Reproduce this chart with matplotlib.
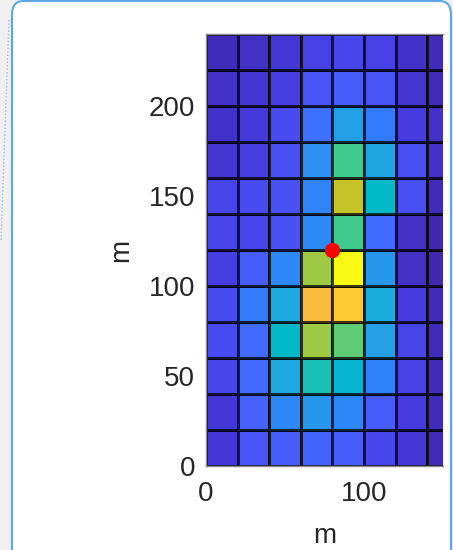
import numpy as np
import matplotlib
matplotlib.use("Agg")
import matplotlib.pyplot as plt
from matplotlib.colors import LinearSegmentedColormap
from matplotlib.patches import FancyBboxPatch
from matplotlib.lines import Line2D

# ---- data ----
x_edges = [0, 20, 40, 60, 80, 100, 120, 140, 160]
y_edges = [0, 20, 40, 60, 80, 100, 120, 140, 160, 180, 200, 220, 240]
# values per row, bottom (y 0-20) to top (y 220-240), columns x 0..160
row0 = [4, 9.5, 11, 12.5, 11, 7, 4, 1.5]
row1 = [4, 12, 18, 21, 18, 11, 5, 1.5]
row2 = [6.5, 13.5, 25, 32, 28, 17, 6, 1.5]
row3 = [8, 13.5, 29.5, 44, 39.5, 23, 6.5, 1.5]
row4 = [8, 16, 25, 52, 55, 26, 5, 1.5]
row5 = [5.5, 11, 18, 44, 63, 21, 2.5, 0.5]
row6 = [7, 7, 9, 18.5, 37, 13.5, 2.5, 0.5]
row7 = [6.5, 8, 9, 17.5, 47, 29.5, 8.5, 1.5]
row8 = [3.5, 5.5, 9, 19.5, 37, 24, 8.5, 2.5]
row9 = [3, 4.5, 8, 14.5, 23, 16, 5, 2.5]
row10 = [2.5, 3.5, 5.5, 9.5, 11, 9.5, 3.5, 1.5]
row11 = [1.5, 2.5, 4, 6, 7, 6, 3, 1.5]
point_x = [80]
point_y = [120]
x_ticks = [0, 100]
y_ticks = [0, 50, 100, 150, 200]
x_label = "m"
y_label = "m"

Z = np.array([row0, row1, row2, row3, row4, row5, row6, row7, row8, row9, row10, row11])

# ---- parula colormap (MATLAB) ----
parula_data = [
    [0.2422, 0.1504, 0.6603], [0.2504, 0.1650, 0.7076], [0.2578, 0.1818, 0.7511],
    [0.2647, 0.1978, 0.7952], [0.2706, 0.2147, 0.8364], [0.2751, 0.2342, 0.8710],
    [0.2783, 0.2559, 0.8991], [0.2803, 0.2782, 0.9221], [0.2813, 0.3006, 0.9414],
    [0.2810, 0.3228, 0.9579], [0.2795, 0.3447, 0.9717], [0.2760, 0.3667, 0.9829],
    [0.2699, 0.3892, 0.9906], [0.2602, 0.4123, 0.9952], [0.2440, 0.4358, 0.9988],
    [0.2206, 0.4603, 0.9973], [0.1963, 0.4847, 0.9892], [0.1834, 0.5074, 0.9798],
    [0.1786, 0.5289, 0.9682], [0.1764, 0.5499, 0.9520], [0.1687, 0.5703, 0.9359],
    [0.1540, 0.5902, 0.9218], [0.1460, 0.6091, 0.9079], [0.1380, 0.6276, 0.8973],
    [0.1248, 0.6459, 0.8883], [0.1113, 0.6635, 0.8763], [0.0952, 0.6798, 0.8598],
    [0.0689, 0.6948, 0.8394], [0.0297, 0.7082, 0.8163], [0.0036, 0.7203, 0.7917],
    [0.0067, 0.7312, 0.7660], [0.0433, 0.7411, 0.7394], [0.0964, 0.7500, 0.7120],
    [0.1408, 0.7584, 0.6842], [0.1717, 0.7670, 0.6554], [0.1938, 0.7758, 0.6251],
    [0.2161, 0.7843, 0.5923], [0.2470, 0.7918, 0.5567], [0.2906, 0.7973, 0.5188],
    [0.3406, 0.8008, 0.4789], [0.3909, 0.8029, 0.4354], [0.4456, 0.8024, 0.3909],
    [0.5044, 0.7993, 0.3480], [0.5616, 0.7942, 0.3045], [0.6174, 0.7876, 0.2612],
    [0.6720, 0.7793, 0.2227], [0.7242, 0.7698, 0.1910], [0.7738, 0.7598, 0.1646],
    [0.8203, 0.7498, 0.1535], [0.8634, 0.7406, 0.1596], [0.9035, 0.7330, 0.1774],
    [0.9393, 0.7288, 0.2100], [0.9728, 0.7298, 0.2394], [0.9956, 0.7434, 0.2371],
    [0.9970, 0.7659, 0.2199], [0.9952, 0.7893, 0.2028], [0.9892, 0.8136, 0.1885],
    [0.9786, 0.8386, 0.1766], [0.9676, 0.8639, 0.1643], [0.9610, 0.8890, 0.1537],
    [0.9597, 0.9135, 0.1423], [0.9628, 0.9373, 0.1265], [0.9691, 0.9606, 0.1064],
    [0.9769, 0.9839, 0.0805]]
parula = LinearSegmentedColormap.from_list("parula", parula_data, N=256)

plt.rcParams['font.family'] = ['Liberation Sans', 'DejaVu Sans']

W, H = 453, 550
fig = plt.figure(figsize=(W / 100, H / 100), dpi=100)
fig.patch.set_facecolor('#f0f0f0')

# card background
card = FancyBboxPatch((12 / W, -20 / H), (451 - 12) / W, (549 + 20) / H,
                      boxstyle="round,pad=0,rounding_size=0.025",
                      transform=fig.transFigure, facecolor='white',
                      edgecolor='#5aa6e6', linewidth=1.5, zorder=-10)
fig.patches.append(card)
fig.add_artist(Line2D([9 / W, 1 / W], [1 - 20 / H, 1 - 240 / H], transform=fig.transFigure,
                      color='#8fc0ec', lw=1.0, ls=(0, (1, 1.5)), zorder=-10))

ax = fig.add_axes([206 / W, (H - 466) / H, (443 - 206) / W, (466 - 34) / H])
ax.set_zorder(1)
ax.pcolormesh(x_edges, y_edges, Z, cmap=parula, vmin=0, vmax=63,
              edgecolors=(0, 0, 0, 0.75), linewidth=0.75)
ax.plot(point_x, point_y, 'o', color='red', markersize=10, zorder=5, clip_on=False)

ax.set_xlim(0, 150)
ax.set_ylim(0, 240)
ax.set_xticks(x_ticks)
ax.set_yticks(y_ticks)
ax.tick_params(length=0, labelsize=20, colors='#262626')
ax.tick_params(axis='x', pad=11)
ax.tick_params(axis='y', pad=8)
for s in ['top', 'left', 'bottom']:
    ax.spines[s].set_color('#8a8a8a')
    ax.spines[s].set_linewidth(1.0)
ax.spines['right'].set_visible(False)
ax.set_xlabel(x_label, fontsize=20, color='#262626', labelpad=11)
ax.set_ylabel(y_label, fontsize=20, color='#262626', labelpad=10)

fig.savefig("out.png", dpi=100)
